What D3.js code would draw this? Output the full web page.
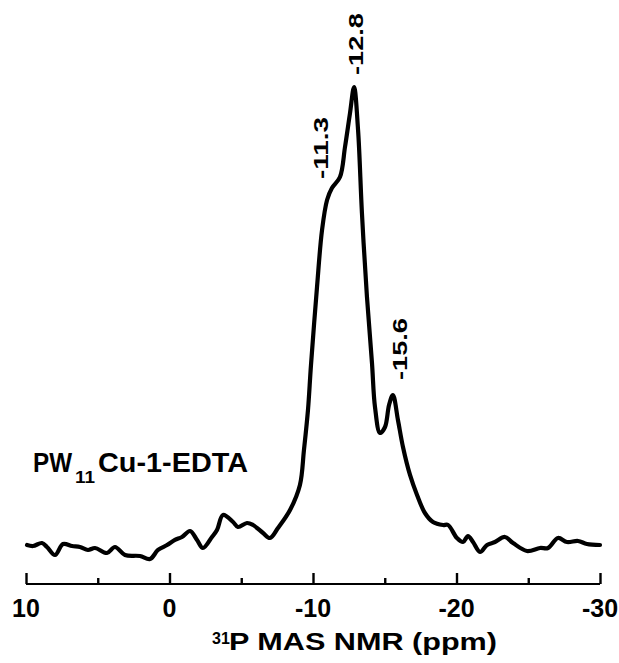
<!DOCTYPE html>
<html>
<head>
<meta charset="utf-8">
<script src="https://cdn.jsdelivr.net/npm/d3@7"></script>
<style>
  html, body { margin: 0; padding: 0; background: #fff; }
  svg { display: block; }
  text { font-family: "Liberation Sans", Arial, sans-serif; font-weight: bold; fill: #000; }
</style>
</head>
<body>
<svg id="chart" width="619" height="663"></svg>
<script>
// Chemical shift (ppm)
const ppm = [9.93, 9.51, 8.89, 8.54, 7.98, 7.42, 6.79, 6.24, 5.68, 5.19, 4.36, 3.80, 3.10, 2.06, 1.36, 0.80, 0.17,
  -0.38, -0.87, -1.43, -1.92, -2.33, -2.96, -3.31, -3.73, -4.43, -4.77, -5.40, -5.82, -6.52, -7.00, -7.56, -8.40,
  -9.09, -9.37, -9.65, -9.86, -10.28, -10.63, -10.98, -11.32, -11.88, -12.23, -12.58, -12.86, -13.14, -13.41,
  -13.76, -14.11, -14.32, -14.67, -15.02, -15.30, -15.57, -15.92, -16.27, -16.76, -17.25, -17.80, -18.36, -19.06,
  -19.41, -20.03, -20.45, -20.80, -21.15, -21.64, -22.13, -22.68, -23.38, -23.94, -24.91, -25.82, -26.38, -27.07,
  -27.70, -28.47, -29.09, -30.00];
// Relative intensity (peak = 100)
const intensity = [0.65, 0.43, 1.08, 0.22, -1.52, 0.87, 0.43, 0.22, -0.43, 0.0, -1.08, 0.22, -1.52, -1.74, -2.39, -0.43, 0.65,
  1.74, 2.39, 3.69, 1.74, 0.0, 2.39, 3.90, 7.16, 5.64, 4.56, 5.42, 4.99, 3.25, 2.17, 4.34, 8.24,
  13.67, 21.26, 29.93, 39.70, 56.62, 68.98, 75.49, 78.09, 80.48, 86.98, 94.36, 100.0, 90.67, 72.67,
  54.45, 40.13, 30.59, 24.95, 26.25, 31.02, 33.19, 27.77, 21.91, 15.84, 11.50, 7.59, 5.64, 4.99,
  4.99, 2.17, 1.30, 2.60, 1.30, -0.87, 0.65, 1.30, 2.39, 1.08, -0.65, 0.0, 0.0, 2.17,
  1.30, 1.52, 0.87, 0.65];
const majorTicks = [10, 0, -10, -20, -30];
const minorTicks = [5, -5, -15, -25];
const peakLabels = ["-11.3", "-12.8", "-15.6"];
const sampleName = ["PW", "11", "Cu-1-EDTA"];
const axisTitle = ["31", "P MAS NMR (ppm)"];

const svg = d3.select("#chart");
const x = d3.scaleLinear().domain([10, -30]).range([26, 600]);
const y = d3.scaleLinear().domain([0, 100]).range([548, 87]);
const axisY = 584;

// Spectrum
const data = ppm.map((p, i) => ({p, v: intensity[i]}));
const line = d3.line().x(d => x(d.p)).y(d => y(d.v)).curve(d3.curveCatmullRom.alpha(0.5));
svg.append("path").datum(data)
  .attr("d", line)
  .attr("fill", "none").attr("stroke", "#000")
  .attr("stroke-width", 4.2).attr("stroke-linejoin", "round").attr("stroke-linecap", "round");

// X axis (ticks pointing up)
const gx = svg.append("g").attr("transform", `translate(0,${axisY})`);
gx.call(d3.axisBottom(x).tickValues(majorTicks).tickSize(-11).tickSizeOuter(0).tickFormat(""));
gx.append("g").call(d3.axisBottom(x).tickValues(minorTicks).tickSize(-6).tickSizeOuter(0).tickFormat(""))
  .select(".domain").remove();
gx.selectAll(".domain").attr("stroke", "#000").attr("stroke-width", 2.2).attr("d", `M${x(10)},0H${x(-30)}`);
gx.selectAll(".tick line").attr("stroke", "#000").attr("stroke-width", 2.4);
gx.selectAll(".tick text").remove();

// Tick labels
svg.append("g").selectAll("text").data(majorTicks).join("text")
  .attr("x", d => x(d)).attr("y", 617)
  .attr("text-anchor", "middle").attr("font-size", 25)
  .text(d => d);

// Axis title
svg.append("text").attr("x", 212).attr("y", 644).attr("font-size", 16).text(axisTitle[0]);
svg.append("text").attr("x", 229).attr("y", 650).attr("font-size", 24)
  .attr("textLength", 268).attr("lengthAdjust", "spacingAndGlyphs").text(axisTitle[1]);

// Sample name
svg.append("text").attr("x", 33).attr("y", 472).attr("font-size", 27)
  .attr("textLength", 39).attr("lengthAdjust", "spacingAndGlyphs").text(sampleName[0]);
svg.append("text").attr("x", 75).attr("y", 483).attr("font-size", 17)
  .attr("textLength", 20).attr("lengthAdjust", "spacingAndGlyphs").text(sampleName[1]);
svg.append("text").attr("x", 98).attr("y", 472).attr("font-size", 27)
  .attr("textLength", 150).attr("lengthAdjust", "spacingAndGlyphs").text(sampleName[2]);

// Peak labels (rotated)
const labelCx = [320, 355, 399];
const labelCy = [148, 44, 349];
svg.append("g").selectAll("text").data(peakLabels).join("text")
  .attr("transform", (d, i) => `translate(${labelCx[i]},${labelCy[i]}) rotate(-90)`)
  .attr("text-anchor", "middle").attr("dy", "0.36em")
  .attr("font-size", 21).attr("textLength", 62).attr("lengthAdjust", "spacingAndGlyphs")
  .text(d => d);
</script>
</body>
</html>
